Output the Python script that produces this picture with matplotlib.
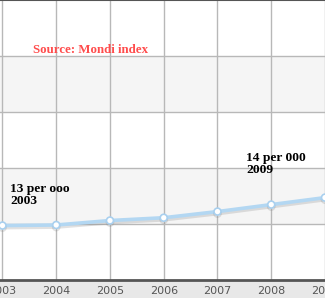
import matplotlib
matplotlib.use("Agg")
import matplotlib.pyplot as plt
import matplotlib.patheffects as pe

# data (rate per 1000)
years = [2003, 2004, 2005, 2006, 2007, 2008, 2009]
rate = [12.93, 12.95, 13.11, 13.21, 13.43, 13.68, 13.93]
tick_labels = ["2003", "2004", "2005", "2006", "2007", "2008", "2009"]
bands = [(13, 15), (17, 19)]
grid_y = [13, 15, 17, 19]

source_text = "Source: Mondi index"
notes = ["13 per ooo\n2003", "14 per 000\n2009"]

fig = plt.figure(figsize=(3.25, 2.98), dpi=100, facecolor="#e8e8e8")
ax = fig.add_axes([0, 18.5 / 298, 1, 279.5 / 298])
ax.set_facecolor("white")

for lo, hi in bands:
    ax.axhspan(lo, hi, color="#f5f5f5", zorder=0, lw=0)
for y in grid_y:
    ax.axhline(y, color="#b8b8b8", lw=1, zorder=1)
for x in years:
    ax.axvline(x, color="#b8b8b8", lw=1, zorder=1)

ax.plot(years, rate, color="#b3d7f2", lw=2.6, marker="o", ms=5,
        mfc="white", mec="#a9d0ef", mew=1.2, zorder=3,
        path_effects=[pe.SimpleLineShadow(offset=(0, -1.5), shadow_color="#888888", alpha=0.25),
                      pe.Normal()])

ax.set_xlim(2002.954, 2008.96)
ax.set_ylim(11, 21)
ax.set_yticks([])
ax.set_xticks(years)
ax.set_xticklabels(tick_labels, fontsize=8, color="#555555")
ax.tick_params(axis="x", length=0, pad=4.5)

for s in ["left", "right"]:
    ax.spines[s].set_visible(False)
ax.spines["top"].set_color("#555555")
ax.spines["top"].set_linewidth(1.5)
ax.spines["bottom"].set_color("#555555")
ax.spines["bottom"].set_linewidth(2)

serif = ["Liberation Serif", "DejaVu Serif"]
ax.text(2003.56, 19.2, source_text, color="#ff4d4d", fontsize=9.3,
        fontweight="bold", family=serif, va="center", ha="left", zorder=4)
ax.text(2003.14, 14.45, notes[0], color="black", fontsize=9.7,
        fontweight="bold", family=serif, va="top", ha="left",
        linespacing=1.0, zorder=4)
ax.text(2007.53, 15.55, notes[1], color="black", fontsize=9.7,
        fontweight="bold", family=serif, va="top", ha="left",
        linespacing=1.0, zorder=4)

fig.savefig("out.png", dpi=100, facecolor=fig.get_facecolor())
